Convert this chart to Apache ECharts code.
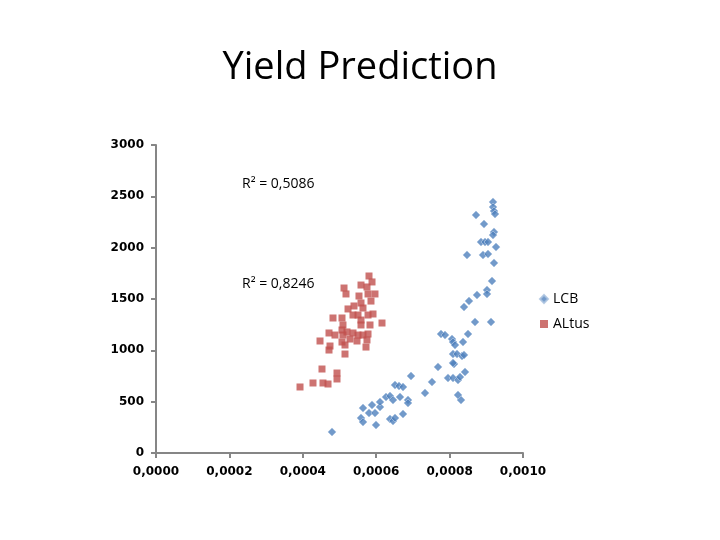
<!DOCTYPE html>
<html lang="en">
<head>
    <meta charset="UTF-8">
    <title>Yield Prediction</title>
    <script src="https://cdn.jsdelivr.net/npm/echarts@6/dist/echarts.min.js"></script>
    <style>
        body { margin: 0; background: #fff; }
        #chart { width: 720px; height: 540px; }
    </style>
</head>
<body>
<div id="chart"></div>
<script>
    // LCB: [x, yield]
    let lcbData = [
        [0.0004796, 205], [0.0005586, 341], [0.0005640, 302], [0.0005640, 438], [0.0005804, 390],
        [0.0005886, 468], [0.0005967, 390], [0.0005995, 273], [0.0006104, 448], [0.0006104, 497],
        [0.0006267, 545], [0.0006376, 555], [0.0006458, 516], [0.0006649, 545], [0.0006376, 331],
        [0.0006458, 312], [0.0006512, 341], [0.0006730, 380], [0.0006512, 662], [0.0006621, 653],
        [0.0006730, 643], [0.0006866, 516], [0.0006866, 487], [0.0006948, 750], [0.0007330, 584],
        [0.0007520, 692], [0.0007684, 838], [0.0008120, 867], [0.0007956, 731], [0.0008093, 731],
        [0.0008229, 711], [0.0008283, 740], [0.0008420, 789], [0.0008229, 565], [0.0008311, 516],
        [0.0007766, 1159], [0.0007875, 1149], [0.0008065, 1110], [0.0008093, 1081], [0.0008147, 1052],
        [0.0008365, 1081], [0.0008501, 1159], [0.0008093, 964], [0.0008202, 964], [0.0008338, 945],
        [0.0008392, 955], [0.0008093, 877], [0.0008529, 1480], [0.0008392, 1422], [0.0008692, 1276],
        [0.0009128, 1276], [0.0008747, 1539], [0.0009019, 1588], [0.0009019, 1549], [0.0009155, 1675],
        [0.0009210, 1851], [0.0008474, 1929], [0.0008910, 1929], [0.0009046, 1938], [0.0008856, 2055],
        [0.0008965, 2055], [0.0009046, 2055], [0.0009264, 2006], [0.0009210, 2153], [0.0009183, 2123],
        [0.0008937, 2230], [0.0008719, 2318], [0.0009183, 2445], [0.0009183, 2396], [0.0009210, 2357],
        [0.0009237, 2328]
    ];
    // ALtus: [x, yield]
    let altusData = [
        [0.0003924, 643], [0.0004278, 682], [0.0004550, 682], [0.0004687, 672], [0.0004932, 721],
        [0.0004932, 779], [0.0004523, 818], [0.0004469, 1091], [0.0004741, 1042], [0.0004714, 1003],
        [0.0005150, 964], [0.0004714, 1169], [0.0004877, 1149], [0.0005095, 1149], [0.0005204, 1179],
        [0.0005368, 1169], [0.0005504, 1149], [0.0005286, 1110], [0.0005068, 1081], [0.0005150, 1052],
        [0.0005477, 1091], [0.0005640, 1149], [0.0005777, 1159], [0.0005749, 1101], [0.0005722, 1032],
        [0.0004823, 1315], [0.0005068, 1315], [0.0005095, 1247], [0.0005068, 1198], [0.0005232, 1403],
        [0.0005395, 1432], [0.0005368, 1344], [0.0005504, 1344], [0.0005586, 1295], [0.0005586, 1247],
        [0.0005777, 1344], [0.0005913, 1354], [0.0005831, 1247], [0.0006158, 1266], [0.0005640, 1412],
        [0.0005586, 1461], [0.0005858, 1480], [0.0005531, 1529], [0.0005777, 1549], [0.0005967, 1549],
        [0.0005586, 1636], [0.0005749, 1617], [0.0005123, 1607], [0.0005177, 1549], [0.0005804, 1724],
        [0.0005886, 1666]
    ];
    let r2Labels = ['R² = 0,5086', 'R² = 0,8246'];

    let chart = echarts.init(document.getElementById('chart'));
    let axisColor = '#868686';
    let tickFont = { color: '#000', fontFamily: 'DejaVu Sans', fontWeight: 'bold', fontSize: 12 };

    let option = {
        animation: false,
        title: {
            text: 'Yield Prediction',
            left: 'center',
            top: 44,
            textStyle: { fontFamily: 'Open Sans', fontWeight: 'normal', fontSize: 38, color: '#000' }
        },
        grid: { left: 156, right: 197, top: 145, bottom: 87, containLabel: false },
        legend: {
            orient: 'vertical',
            left: 534,
            top: 287,
            itemGap: 11,
            itemWidth: 8,
            itemHeight: 8,
            textStyle: { fontFamily: 'Open Sans', fontSize: 14, color: '#000' },
            data: [{ name: 'LCB', icon: 'diamond' }, { name: 'ALtus', icon: 'rect' }]
        },
        xAxis: {
            type: 'value',
            min: 0,
            max: 0.001,
            interval: 0.0002,
            splitLine: { show: false },
            axisLine: { lineStyle: { color: axisColor, width: 2 } },
            axisTick: { show: true, length: 5, lineStyle: { color: axisColor, width: 2 } },
            axisLabel: Object.assign({
                margin: 13,
                formatter: function (v) { return v.toFixed(4).replace('.', ','); }
            }, tickFont)
        },
        yAxis: {
            type: 'value',
            min: 0,
            max: 3000,
            interval: 500,
            splitLine: { show: false },
            axisLine: { show: true, lineStyle: { color: axisColor, width: 2 } },
            axisTick: { show: true, length: 5, lineStyle: { color: axisColor, width: 2 } },
            axisLabel: Object.assign({
                margin: 12,
                formatter: function (v) { return String(v); }
            }, tickFont)
        },
        graphic: [
            { type: 'text', left: 242, top: 177, style: { text: r2Labels[0], fontFamily: 'Open Sans', fontSize: 14, fill: '#000' } },
            { type: 'text', left: 242, top: 277, style: { text: r2Labels[1], fontFamily: 'Open Sans', fontSize: 14, fill: '#000' } }
        ],
        series: [
            {
                name: 'LCB',
                type: 'scatter',
                symbol: 'diamond',
                symbolSize: 8,
                itemStyle: { color: '#4F81BD', borderColor: '#A7C0DE', borderWidth: 1 },
                data: lcbData
            },
            {
                name: 'ALtus',
                type: 'scatter',
                symbol: 'rect',
                symbolSize: 7,
                itemStyle: { color: '#C0504D' },
                data: altusData
            }
        ]
    };
    chart.setOption(option);
</script>
</body>
</html>
